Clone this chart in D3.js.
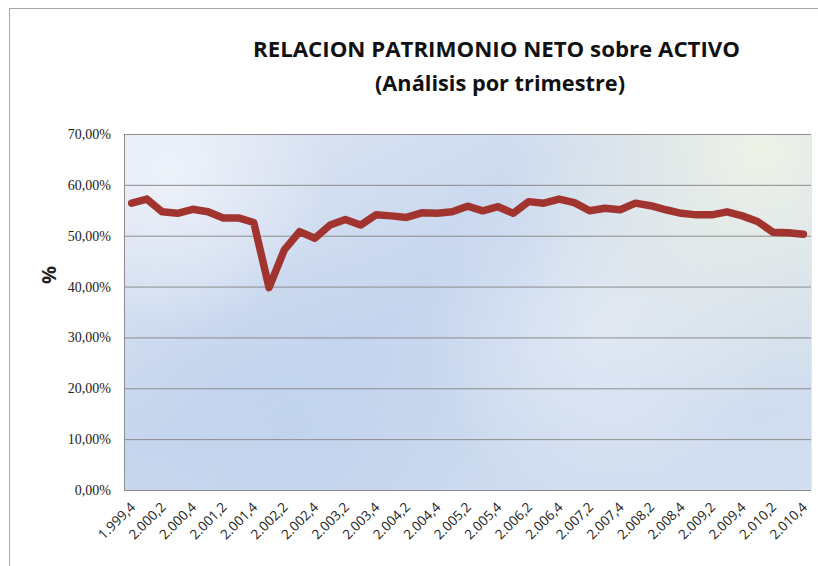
<!DOCTYPE html>
<html><head><meta charset="utf-8">
<script src="https://cdn.jsdelivr.net/npm/d3@7"></script>
<style>body{margin:0;background:#fff}svg{display:block}</style>
</head><body><svg id="c" width="818" height="566"></svg>
<script>
const titleLines = ["RELACION PATRIMONIO NETO sobre ACTIVO", "(Análisis por trimestre)"];
const quarters = ["1.999,4","2.000,1","2.000,2","2.000,3","2.000,4","2.001,1","2.001,2","2.001,3","2.001,4","2.002,1","2.002,2","2.002,3","2.002,4","2.003,1","2.003,2","2.003,3","2.003,4","2.004,1","2.004,2","2.004,3","2.004,4","2.005,1","2.005,2","2.005,3","2.005,4","2.006,1","2.006,2","2.006,3","2.006,4","2.007,1","2.007,2","2.007,3","2.007,4","2.008,1","2.008,2","2.008,3","2.008,4","2.009,1","2.009,2","2.009,3","2.009,4","2.010,1","2.010,2","2.010,3","2.010,4"];
const values = [56.4,57.2,54.7,54.4,55.2,54.7,53.5,53.5,52.6,39.8,47.2,50.8,49.5,52.1,53.2,52.1,54.1,53.9,53.6,54.5,54.4,54.7,55.8,54.9,55.7,54.4,56.7,56.4,57.2,56.5,54.9,55.4,55.1,56.4,55.9,55.1,54.4,54.1,54.1,54.7,53.9,52.8,50.7,50.6,50.3];
const yTicks = [0,10,20,30,40,50,60,70];

const svg = d3.select("#c");
const M = {left:124, right:811, top:134, bottom:490};

// outer chart border
svg.append("rect").attr("x",9.5).attr("y",8.5).attr("width",830).attr("height",600)
  .attr("fill","#fff").attr("stroke","#a6a6a6").attr("stroke-width",1);

const defs = svg.append("defs");
const lg = defs.append("linearGradient").attr("id","bg").attr("x1","0").attr("y1","0").attr("x2","1").attr("y2","1");
lg.append("stop").attr("offset","0").attr("stop-color","#dfe6f3");
lg.append("stop").attr("offset","0.45").attr("stop-color","#c6d6ee");
lg.append("stop").attr("offset","1").attr("stop-color","#d3dff0");
function radial(id, cx, cy, r, col, op){
  const g = defs.append("radialGradient").attr("id",id).attr("gradientUnits","userSpaceOnUse")
    .attr("cx",cx).attr("cy",cy).attr("r",r);
  g.append("stop").attr("offset","0").attr("stop-color",col).attr("stop-opacity",op);
  g.append("stop").attr("offset","1").attr("stop-color",col).attr("stop-opacity",0);
}
radial("r1",170,170,160,"#f2f5fb",0.8);
radial("r2",760,150,260,"#f1f4e6",0.95);
radial("r3",600,330,180,"#eef2f8",0.6);
radial("r4",300,440,200,"#bccfec",0.5);

const pw = M.right-M.left, ph = M.bottom-M.top;
svg.append("rect").attr("x",M.left).attr("y",M.top).attr("width",pw).attr("height",ph).attr("fill","url(#bg)");
["r4","r1","r3","r2"].forEach(id=>svg.append("rect").attr("x",M.left).attr("y",M.top).attr("width",pw).attr("height",ph).attr("fill",`url(#${id})`));

const x = d3.scalePoint().domain(quarters).range([M.left,M.right]).padding(0.5);
const y = d3.scaleLinear().domain([0,70]).range([M.bottom,M.top]);

// gridlines
svg.append("g").selectAll("line").data(yTicks.filter(d=>d>0)).join("line")
  .attr("x1",M.left).attr("x2",M.right).attr("y1",d=>y(d)+0.5).attr("y2",d=>y(d)+0.5)
  .attr("stroke","#8c8c8c").attr("stroke-width",1);

// axes lines
svg.append("line").attr("x1",M.left+0.5).attr("x2",M.left+0.5).attr("y1",M.top).attr("y2",M.bottom).attr("stroke","#8c8c8c");
svg.append("line").attr("x1",M.left).attr("x2",M.right).attr("y1",M.bottom+0.5).attr("y2",M.bottom+0.5).attr("stroke","#8c8c8c");
svg.append("line").attr("x1",M.right+0.5).attr("x2",M.right+0.5).attr("y1",M.top).attr("y2",M.bottom).attr("stroke","#e2e6ee");

// y axis labels
const yAxis = d3.axisLeft(y).tickValues(yTicks).tickSize(0).tickPadding(0)
  .tickFormat(d=>d3.format(".2f")(d).replace(".",",")+"%");
const ya = svg.append("g").attr("transform",`translate(${M.left-13},0)`).call(yAxis);
ya.select(".domain").remove();
ya.attr("font-family",null).attr("font-size",null);
ya.selectAll("text").attr("font-family","Liberation Serif").attr("font-size",14).attr("fill","#222");

// x axis labels
const xAxis = d3.axisBottom(x).tickValues(quarters.filter((d,i)=>i%2===0)).tickSize(0).tickPadding(0);
const xa = svg.append("g").attr("transform",`translate(0,${M.bottom})`).call(xAxis);
xa.select(".domain").remove();
xa.attr("font-family",null).attr("font-size",null);
xa.selectAll("text").attr("font-family","Open Sans").attr("font-size",13.5).attr("fill","#222")
  .attr("text-anchor","end").attr("dy",0).attr("y",0).attr("transform","translate(4,18) rotate(-45)");

// axis title
svg.append("text").attr("transform","translate(56,275) rotate(-90)").attr("text-anchor","middle")
  .attr("font-family","Open Sans").attr("font-weight","bold").attr("font-size",20).attr("fill","#222").text("%");

// title
const tW = [487, 250];
svg.append("g").selectAll("text").data(titleLines).join("text")
  .attr("x",(d,i)=>i===0?496.5:500).attr("y",(d,i)=>57+i*34).attr("text-anchor","middle")
  .attr("font-family","Open Sans").attr("font-weight","bold").attr("font-size",22)
  .attr("textLength",(d,i)=>tW[i]).attr("lengthAdjust","spacingAndGlyphs")
  .attr("fill","#111").text(d=>d);

// line
svg.append("path").datum(values)
  .attr("d", d3.line().x((d,i)=>x(quarters[i])).y(d=>y(d)))
  .attr("fill","none").attr("stroke","#a23430").attr("stroke-width",7.5)
  .attr("stroke-linejoin","round").attr("stroke-linecap","round");
</script></body></html>
